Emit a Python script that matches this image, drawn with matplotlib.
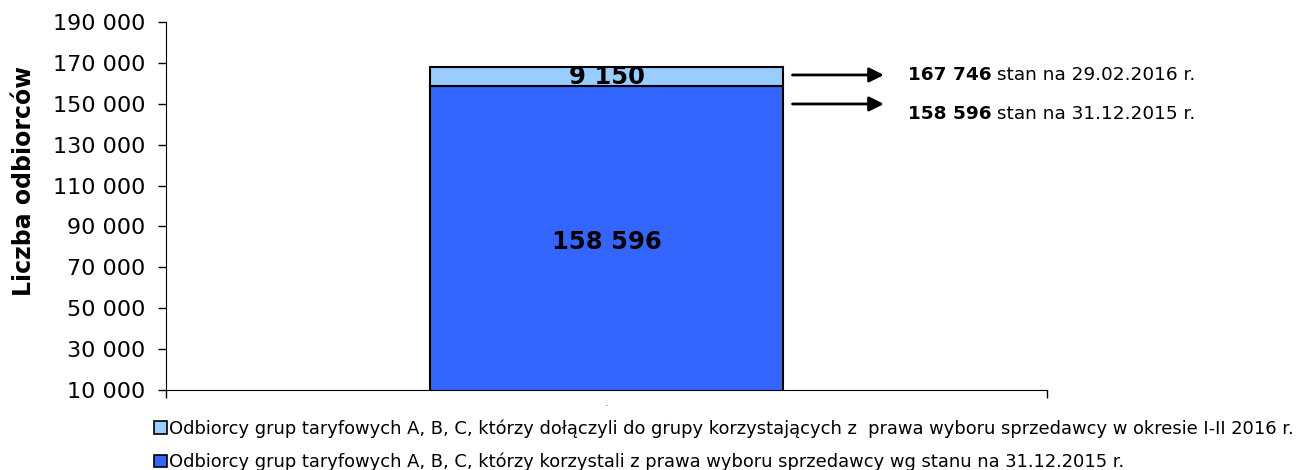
import matplotlib.pyplot as plt
from matplotlib.patches import Patch
import matplotlib.transforms as mtransforms

# dane
kategorie = ['.']
stan_2015 = [158596]
przylaczeni_2016 = [9150]
opisy_stanu = ['stan na 31.12.2015 r.', 'stan na 29.02.2016 r.']
etykiety = ['Odbiorcy grup taryfowych A, B, C, którzy dołączyli do grupy korzystających z  prawa wyboru sprzedawcy w okresie I-II 2016 r.',
            'Odbiorcy grup taryfowych A, B, C, którzy korzystali z prawa wyboru sprzedawcy wg stanu na 31.12.2015 r.']
kolory = ['#99CCFF', '#3366FF']
y_ticks = list(range(10000, 190001, 20000))

plt.rcParams['font.family'] = 'DejaVu Sans'


def fmt(v):
    return '{:,}'.format(v).replace(',', ' ')


fig = plt.figure(figsize=(13.05, 4.70), dpi=100)
ax = fig.add_axes([166/1305, 1-390/470, 881/1305, 368/470])

x = list(range(len(kategorie)))
ax.bar(x, stan_2015, width=0.4, color=kolory[1], edgecolor='black', linewidth=1.5)
ax.bar(x, przylaczeni_2016, bottom=stan_2015, width=0.4, color=kolory[0], edgecolor='black', linewidth=1.5)

ax.set_xlim(-0.5, 0.5)
ax.set_ylim(10000, 190000)
ax.set_yticks(y_ticks)
ax.set_yticklabels([fmt(v) for v in y_ticks], fontsize=16)
ax.set_xticks(x)
ax.set_xticklabels(kategorie, fontsize=8, color='#555555')
ax.tick_params(axis='x', length=0, pad=6)
ax.set_xticks([-0.5, 0.5], minor=True)
ax.tick_params(axis='x', which='minor', length=6, width=1)
ax.tick_params(axis='y', length=6, width=1, pad=9)
for s in ['top', 'right']:
    ax.spines[s].set_visible(False)

ax.set_ylabel('Liczba odbiorców', fontsize=17, fontweight='bold')
ax.yaxis.set_label_coords(-0.147, 0.568)

# etykiety na słupku
dol = ax.get_ylim()[0]
for i in x:
    ax.annotate(fmt(stan_2015[i]), xy=(i, (dol + stan_2015[i]) / 2), xytext=(0, -3),
                textcoords='offset points', ha='center', va='center', fontsize=17.5, fontweight='bold')
    ax.text(i, stan_2015[i] + przylaczeni_2016[i] / 2, fmt(przylaczeni_2016[i]),
            ha='center', va='center', fontsize=17.5, fontweight='bold')

# strzałki z opisem
trans = mtransforms.blended_transform_factory(ax.transAxes, ax.transData)
suma = stan_2015[0] + przylaczeni_2016[0]
wartosci = [stan_2015[0], suma]
strzalki_y = [149900, 164100]
teksty_y = [145000, 164300]
for val, opis, yy, ty in zip(wartosci, opisy_stanu, strzalki_y, teksty_y):
    ax.annotate('', xy=(0.818, yy), xytext=(0.708, yy), xycoords=trans, textcoords=trans,
                arrowprops=dict(arrowstyle='-|>', color='black', lw=2, mutation_scale=22),
                annotation_clip=False)
    t = ax.text(0.842, ty, fmt(val), transform=trans,
                ha='left', va='center', fontsize=13.3, fontweight='bold', clip_on=False)
    ax.annotate(' ' + opis, xy=(1, 0), xycoords=t, ha='left', va='bottom', fontsize=13.3)

uchwyty = [Patch(facecolor=kolory[0], edgecolor='black', linewidth=1.2),
           Patch(facecolor=kolory[1], edgecolor='black', linewidth=1.2)]
fig.legend(uchwyty, etykiety, loc='upper left', bbox_to_anchor=(154/1305, 1-419/470),
           frameon=False, fontsize=12.9, handlelength=0.7, handleheight=0.7,
           handletextpad=0.15, labelspacing=0.85, borderaxespad=0, borderpad=0)

fig.savefig('out.png', dpi=100)
